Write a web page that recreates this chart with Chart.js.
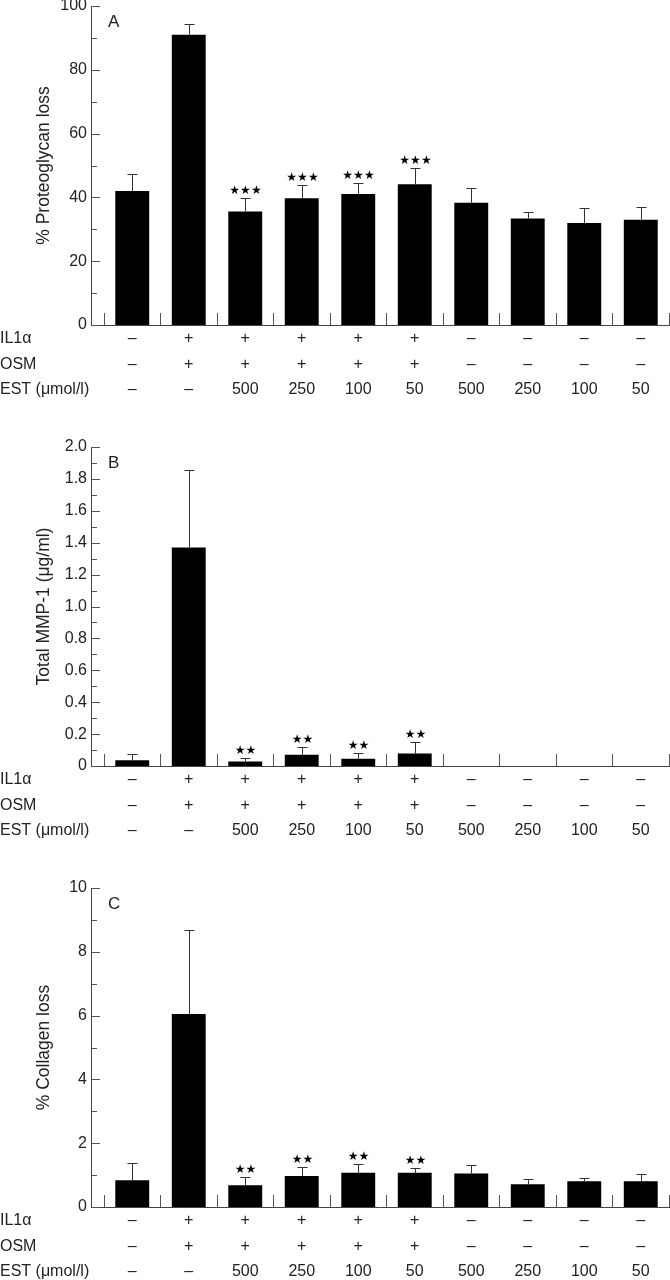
<!DOCTYPE html>
<html>
<head>
<meta charset="utf-8">
<script src="https://cdn.jsdelivr.net/npm/chart.js@4/dist/chart.umd.min.js"></script>
<style>
  body { margin: 0; background: #fff; overflow: hidden; }
  .panel { position: absolute; left: 0; width: 670px; height: 413px; }
</style>
</head>
<body>
<div class="panel" style="top:-14px"><canvas id="chartA"></canvas></div>
<div class="panel" style="top:427px"><canvas id="chartB"></canvas></div>
<div class="panel" style="top:868px"><canvas id="chartC"></canvas></div>
<script>
// Treatment rows shown under every panel
const il1a = ['–', '+', '+', '+', '+', '+', '–', '–', '–', '–'];
const osm = ['–', '+', '+', '+', '+', '+', '–', '–', '–', '–'];
const est = ['–', '–', '500', '250', '100', '50', '500', '250', '100', '50'];
const rowNames = ['IL1α', 'OSM', 'EST (μmol/l)'];

// Panel A - proteoglycan loss
const proteoglycanLoss = [42, 91, 35.6, 39.7, 41.1, 44.1, 38.3, 33.4, 32.0, 33.0];
const proteoglycanSd = [5.4, 3.3, 4.1, 4.3, 3.3, 5.2, 4.6, 1.9, 4.7, 4.0];
const proteoglycanSig = ['', '', '★★★', '★★★', '★★★', '★★★', '', '', '', ''];

// Panel B - total MMP-1 (no values for EST alone)
const mmp1 = [0.036, 1.37, 0.028, 0.071, 0.046, 0.078, null, null, null, null];
const mmp1Sd = [0.04, 0.485, 0.025, 0.046, 0.036, 0.072, null, null, null, null];
const mmp1Sig = ['', '', '★★', '★★', '★★', '★★', '', '', '', ''];

// Panel C - collagen loss
const collagenLoss = [0.84, 6.05, 0.68, 0.97, 1.07, 1.07, 1.05, 0.71, 0.81, 0.81];
const collagenSd = [0.54, 2.62, 0.27, 0.29, 0.29, 0.15, 0.28, 0.17, 0.09, 0.21];
const collagenSig = ['', '', '★★', '★★', '★★', '★★', '', '', '', ''];

const FONT = '"Liberation Sans", Arial, Helvetica, sans-serif';
const LINE_H = 1.6;
Chart.defaults.font.family = FONT;
Chart.defaults.color = '#222';

// error bars, stars, inward ticks, dividers, row names, panel letter
const panelDecor = {
    id: 'panelDecor',
    afterDatasetsDraw(chart, args, opts) {
        const ctx = chart.ctx;
        const x = chart.scales.x;
        const y = chart.scales.y;
        const area = chart.chartArea;
        ctx.save();
        ctx.strokeStyle = '#333';
        ctx.lineWidth = 1;

        // error bars (upper only)
        opts.means.forEach((m, i) => {
            if (m == null) return;
            const px = Math.round(x.getPixelForValue(i + 0.5)) + 0.5;
            const top = Math.round(y.getPixelForValue(m + opts.sd[i])) + 0.5;
            ctx.beginPath();
            ctx.moveTo(px, y.getPixelForValue(m));
            ctx.lineTo(px, top);
            ctx.moveTo(px - 5, top);
            ctx.lineTo(px + 5, top);
            ctx.stroke();
            if (opts.sig[i]) {
                ctx.fillStyle = '#000';
                ctx.font = '12px "DejaVu Sans"';
                ctx.textAlign = 'center';
                ctx.textBaseline = 'middle';
                ctx.fillText(opts.sig[i], px, top - 8);
            }
        });

        // group dividers rising from the x axis
        ctx.strokeStyle = '#555';
        for (let k = 0; k <= il1a.length; k++) {
            const px = Math.round(x.getPixelForValue(k)) + 0.5;
            ctx.beginPath();
            ctx.moveTo(px, area.bottom);
            ctx.lineTo(px, area.bottom - 12);
            ctx.stroke();
        }

        // inward major + minor ticks on y
        const left = area.left;
        for (let v = y.min; v <= y.max + 1e-9; v += opts.minorStep) {
            const py = Math.round(y.getPixelForValue(v)) + 0.5;
            const major = Math.abs(v / opts.majorStep - Math.round(v / opts.majorStep)) < 1e-6;
            ctx.beginPath();
            ctx.moveTo(left, py);
            ctx.lineTo(left + (major ? 9 : 6), py);
            ctx.stroke();
        }

        // row names at the left, lined up with tick label lines
        ctx.fillStyle = '#222';
        ctx.font = '16px ' + FONT;
        ctx.textAlign = 'left';
        ctx.textBaseline = 'middle';
        const lh = 16 * LINE_H;
        rowNames.forEach((name, k) => {
            ctx.fillText(name, 0, x.top + 1 + lh / 2 + k * lh);
        });

        // panel letter
        ctx.font = '17px ' + FONT;
        ctx.textBaseline = 'alphabetic';
        ctx.fillText(opts.letter, left + 17, area.top + 21);
        ctx.restore();
    }
};

function makePanel(id, means, sd, sig, letter, title, yMax, step, minorStep, tickFmt) {
    const points = [];
    means.forEach((v, i) => { if (v != null) points.push({ x: i + 0.5, y: v }); });
    return new Chart(document.getElementById(id), {
        type: 'bar',
        data: {
            datasets: [{
                data: points,
                backgroundColor: '#000',
                categoryPercentage: 1,
                barPercentage: 0.6
            }]
        },
        options: {
            responsive: true,
            maintainAspectRatio: false,
            animation: false,
            layout: { padding: { top: 20, right: 1, left: 0, bottom: 0 } },
            plugins: {
                legend: { display: false },
                tooltip: { enabled: false },
                panelDecor: { means: means, sd: sd, sig: sig, letter: letter, majorStep: step, minorStep: minorStep }
            },
            scales: {
                x: {
                    type: 'linear',
                    offset: false,
                    min: -0.23,
                    max: il1a.length,
                    grid: { display: false, drawTicks: false, tickLength: 0 },
                    border: { color: '#444', width: 1 },
                    afterBuildTicks: s => { s.ticks = il1a.map((c, i) => ({ value: i + 0.5 })); },
                    afterFit: s => { s.height = 74; },
                    ticks: {
                        autoSkip: false,
                        maxRotation: 0,
                        padding: 1,
                        color: '#222',
                        font: { size: 16, lineHeight: LINE_H },
                        callback: (v, i) => [il1a[i], osm[i], est[i]]
                    }
                },
                y: {
                    min: 0,
                    max: yMax,
                    grid: { display: false, drawTicks: false, tickLength: 0 },
                    border: { color: '#444', width: 1 },
                    afterFit: s => { s.width = 91; },
                    ticks: {
                        stepSize: step,
                        padding: 4,
                        color: '#222',
                        font: { size: 16 },
                        callback: tickFmt
                    },
                    title: {
                        display: true,
                        text: title,
                        color: '#222',
                        font: { size: 17.5 },
                        padding: { top: 34, bottom: 0 }
                    }
                }
            }
        },
        plugins: [panelDecor]
    });
}

makePanel('chartA', proteoglycanLoss, proteoglycanSd, proteoglycanSig, 'A',
    '% Proteoglycan loss', 100, 20, 10, v => v);
makePanel('chartB', mmp1, mmp1Sd, mmp1Sig, 'B',
    'Total MMP-1 (μg/ml)', 2, 0.2, 0.1, v => (v === 0 ? '0' : v.toFixed(1)));
makePanel('chartC', collagenLoss, collagenSd, collagenSig, 'C',
    '% Collagen loss', 10, 2, 1, v => v);
</script>
</body>
</html>
